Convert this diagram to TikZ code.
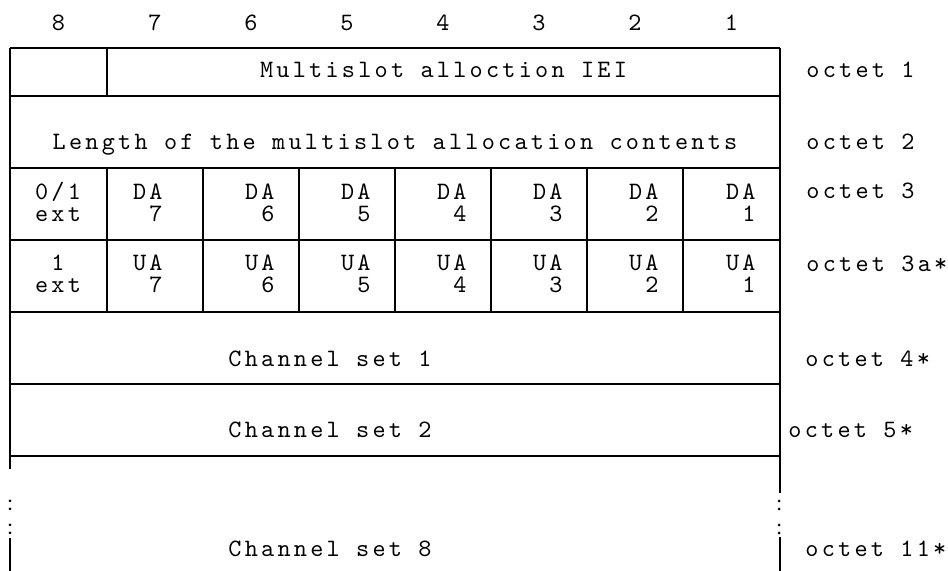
\documentclass[tikz,border=0pt]{standalone}
\usepackage{fontspec}
\newfontfamily\octfont{lmmono10-regular.otf}[LetterSpace=13]
\usetikzlibrary{positioning}

\tikzset{
  txt/.style={inner sep=0pt, anchor=base, font=\octfont\fontsize{12.5}{11}\selectfont},
  octlabel/.style={txt, anchor=base west},
  hrule/.style={line width=1.1pt},
  vrule/.style={line width=0.9pt},
  dotmark/.style={circle, fill, inner sep=0pt, minimum size=1.5pt}
}

\begin{document}
\begin{tikzpicture}[x=0.5pt, y=-0.5pt]
        \useasboundingbox (0,0) rectangle (948,571);

        % bit numbers
        \foreach \b/\xc in {8/58.5,7/155,6/251,5/347,4/443,3/539,2/635,1/731.5}
          \node[txt] (bit\b) at (\xc,31) {\b};

        % horizontal rules
        \foreach \yy in {48,96,168,240,312,384,456}
          \draw[hrule] (10,\yy) -- (780,\yy);

        % outer sides
        \draw[vrule] (10,48) -- (10,469);
        \draw[vrule] (780,48) -- (780,493);
        \draw[vrule] (10,538) -- (10,571);
        \draw[vrule] (780,537) -- (780,571);
        \foreach \yy in {501,509,525,533} {
          \node[dotmark] at (10,\yy) {};
          \node[dotmark] at (779,\yy) {};
        }

        % octet 1
        \draw[vrule] (107,48) -- (107,96);
        \node[txt] (iei) at (443.5,78) {Multislot alloction IEI};
        \node[octlabel] (oct1) at (806,78) {octet 1};

        % octet 2
        \node[txt] (len) at (395,150) {Length of the multislot allocation contents};
        \node[octlabel] (oct2) at (806,150) {octet 2};

        % octets 3 and 3a
        \foreach \xx in {107,203,299,395,491,587,683}
          \draw[vrule] (\xx,168) -- (\xx,312);
        \node[txt, align=center] (ext3) at (58,222) {0/1\\ext};
        \node[txt, align=center] (ext3a) at (58,293) {1\\ext};
        \foreach \n/\xr in {7/163,6/275,5/371,4/467,3/563,2/659,1/756} {
          \node[txt, anchor=base east, align=right] (da\n) at (\xr,222) {DA\\\n};
          \node[txt, anchor=base east, align=right] (ua\n) at (\xr,293) {UA\\\n};
        }
        \node[octlabel] (oct3) at (806,199) {octet 3};
        \node[octlabel] (oct3a) at (806,272) {octet 3a*};

        % channel sets
        \node[txt] (cs1) at (330,367) {Channel set 1};
        \node[octlabel] (oct4) at (805,367) {octet 4*};
        \node[txt] (cs2) at (330,438) {Channel set 2};
        \node[octlabel] (oct5) at (788,438) {octet 5*};
        \node[txt] (cs8) at (330,557) {Channel set 8};
        \node[octlabel] (oct11) at (805,557) {octet 11*};
    \end{tikzpicture}
\end{document}
